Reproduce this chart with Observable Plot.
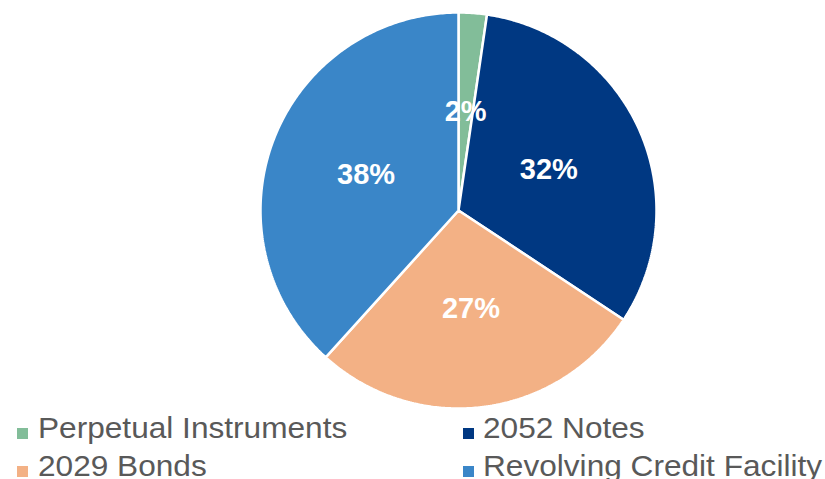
<!DOCTYPE html>
<html>
<head>
<meta charset="utf-8">
<script src="https://cdn.jsdelivr.net/npm/d3@7"></script>
<script src="https://cdn.jsdelivr.net/npm/@observablehq/plot@0.6"></script>
<style>
  html, body { margin: 0; padding: 0; background: #fff; overflow: hidden; }
  #wrap { position: relative; width: 825px; height: 479px; overflow: hidden; }
  .leg { position: absolute; font-family: "Liberation Sans", Arial, sans-serif; font-size: 29px; color: #595959; white-space: nowrap; line-height: 29px; transform-origin: left top; transform: scaleX(1.09); }
  .sw { position: absolute; width: 11px; height: 11px; }
</style>
</head>
<body>
<div id="wrap"><div id="chart"></div></div>
<script>
const categories = ["Perpetual Instruments", "2052 Notes", "2029 Bonds", "Revolving Credit Facility"];
const values = [2.3, 32.0, 27.4, 38.3];
const labels = ["2%", "32%", "27%", "38%"];
const colors = ["#82BD99", "#003882", "#F3B185", "#3A86C8"];

const total = d3.sum(values);
const pts = [];
const labelPts = [];
let acc = 0;
categories.forEach((c, i) => {
  const a0 = acc / total * 2 * Math.PI;
  acc += values[i];
  const a1 = acc / total * 2 * Math.PI;
  pts.push({name: c, x: 0, y: 0});
  const n = Math.max(4, Math.ceil((a1 - a0) / 0.01));
  for (let k = 0; k <= n; k++) {
    const a = a0 + (a1 - a0) * k / n;
    pts.push({name: c, x: Math.sin(a), y: Math.cos(a)});
  }
  pts.push({name: c, x: 0, y: 0});
  const am = (a0 + a1) / 2;
  labelPts.push({name: c, label: labels[i], x: 0.5 * Math.sin(am), y: 0.5 * Math.cos(am)});
});

const chart = Plot.plot({
  width: 825,
  height: 410,
  marginLeft: 260,
  marginRight: 169,
  marginTop: 12,
  marginBottom: 2,
  x: {domain: [-1, 1], axis: null},
  y: {domain: [-1, 1], axis: null},
  color: {domain: categories, range: colors},
  marks: [
    Plot.line(pts, {x: "x", y: "y", z: "name", fill: "name", stroke: "white", strokeWidth: 2.5, strokeLinejoin: "miter", curve: "linear"}),
    Plot.text(labelPts, {x: "x", y: "y", text: "label", fill: "white", fontSize: 29, fontWeight: "bold", fontFamily: "Liberation Sans, Arial, sans-serif"})
  ]
});
document.getElementById("chart").appendChild(chart);

const wrap = document.getElementById("wrap");
// [swatch left, text left, baseline]
const pos = [[17, 38, 438], [463, 483, 438], [17, 38, 476], [463, 483, 476]];
categories.forEach((c, i) => {
  const [sx, tx, base] = pos[i];
  const sw = document.createElement("div");
  sw.className = "sw";
  sw.style.left = sx + "px";
  sw.style.top = (base - 10) + "px";
  sw.style.background = colors[i];
  wrap.appendChild(sw);
  const t = document.createElement("div");
  t.className = "leg";
  t.style.left = tx + "px";
  t.style.top = (base - 24.5) + "px";
  t.textContent = c;
  wrap.appendChild(t);
});
</script>
</body>
</html>
